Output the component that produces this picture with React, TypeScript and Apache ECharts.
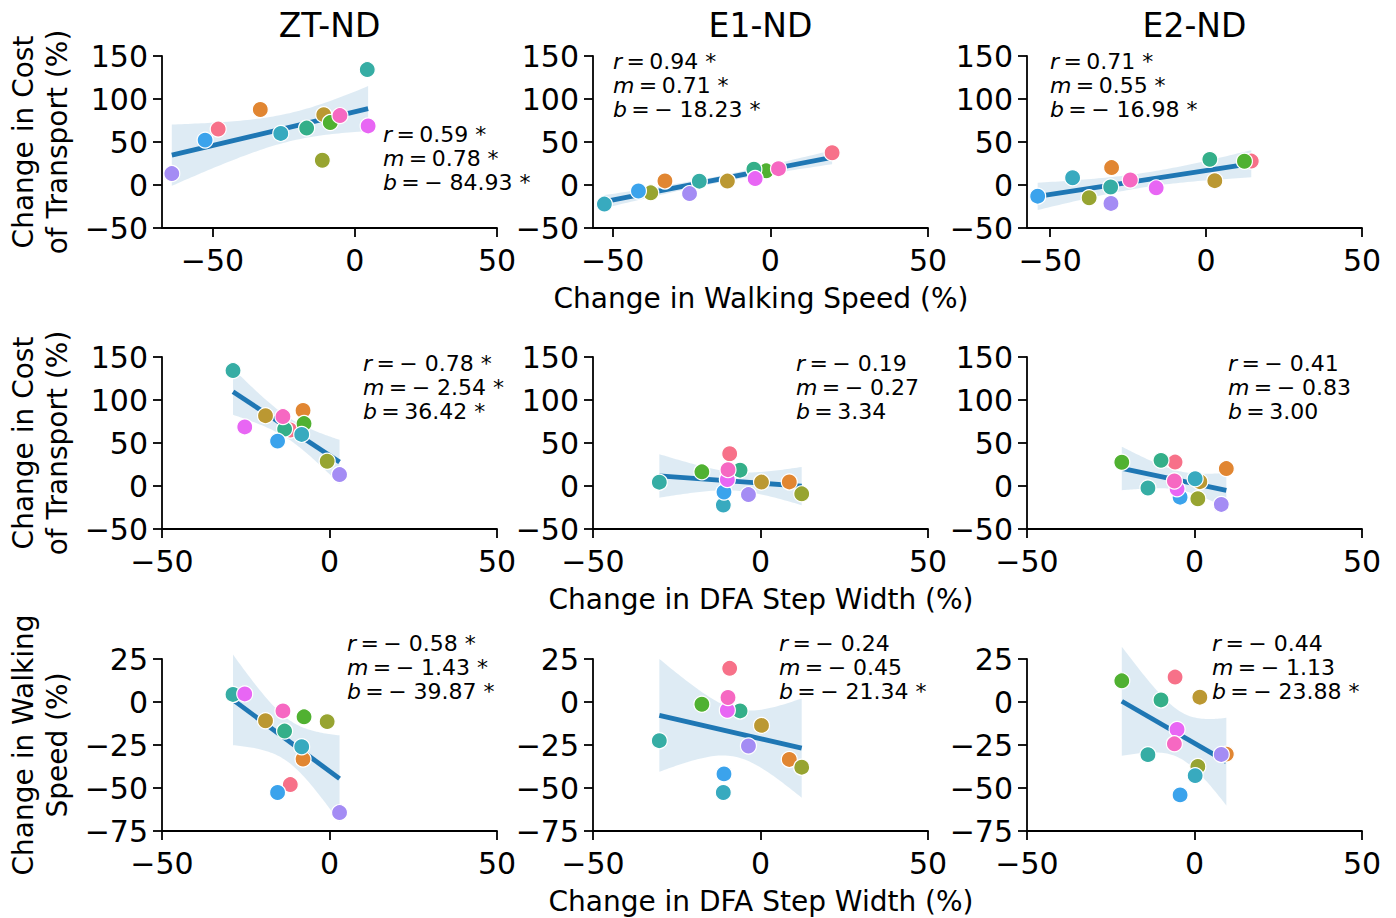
import React, { useEffect, useRef } from 'react';
import * as echarts from 'echarts';

// ---- data (12 participants, colour = participant) ----
const conditions = ['ZT-ND', 'E1-ND', 'E2-ND'];
const palette = ['#f77189', '#e18632', '#bb9832', '#97a431', '#50b131', '#34af89', '#36ada4', '#38aabf', '#3ba3ec', '#a48cf4', '#e866f4', '#f668c2'];

// Change in walking speed (%)
const speedZT = [-48.0, -33.2, -10.9, -11.4, -8.6, -16.9, 4.4, -26.0, -52.6, -64.3, 4.7, -5.2];
const speedE1 = [19.6, -33.4, -13.6, -37.9, -1.3, -5.2, -22.5, -52.6, -41.8, -25.6, -4.8, 2.6];
const speedE2 = [14.5, -30.3, 2.8, -37.5, 12.3, 1.2, -30.6, -42.8, -54.0, -30.5, -16.0, -24.3];

// Change in cost of transport (%)
const cotZT = [65.0, 87.8, 81.8, 28.8, 72.6, 66.2, 134.2, 60.0, 52.2, 13.3, 68.7, 80.7];
const cotE1 = [37.5, 4.7, 4.6, -9.1, 16.5, 18.4, 4.4, -22.2, -7.0, -10.0, 7.5, 19.0];
const cotE2 = [27.8, 20.3, 5.0, -14.8, 27.6, 29.8, -2.3, 8.4, -13.0, -21.4, -3.3, 5.8];

// Change in DFA step width (%)
const dfaZT = [-11.7, -7.9, -19.1, -0.7, -7.6, -13.4, -28.8, -8.3, -15.5, 3.0, -25.3, -13.9];
const dfaE1 = [-9.2, 8.6, 0.3, 12.3, -17.5, -6.1, -30.2, -11.1, -10.9, -3.6, -9.9, -9.7];
const dfaE2 = [-5.8, 9.5, 1.6, 1.0, -21.7, -10.0, -13.9, 0.2, -4.3, 8.0, -5.2, -6.0];

// statistics text per row (rows: speed->CoT, DFA->CoT, DFA->speed), per condition
const statR = [
  ['0.59 *', '0.94 *', '0.71 *'],
  ['\u2212 0.78 *', '\u2212 0.19', '\u2212 0.41'],
  ['\u2212 0.58 *', '\u2212 0.24', '\u2212 0.44'],
];
const statM = [
  ['0.78 *', '0.71 *', '0.55 *'],
  ['\u2212 2.54 *', '\u2212 0.27', '\u2212 0.83'],
  ['\u2212 1.43 *', '\u2212 0.45', '\u2212 1.13'],
];
const statB = [
  ['\u2212 84.93 *', '\u2212 18.23 *', '\u2212 16.98 *'],
  ['36.42 *', '3.34', '3.00'],
  ['\u2212 39.87 *', '\u2212 21.34 *', '\u2212 23.88 *'],
];

const xTicks = [-50, 0, 50];
const rowXLabels = ['Change in Walking Speed (%)', 'Change in DFA Step Width (%)', 'Change in DFA Step Width (%)'];
const rowYLabels = ['Change in Cost\nof Transport (%)', 'Change in Cost\nof Transport (%)', 'Change in Walking\nSpeed (%)'];

const speedData = [speedZT, speedE1, speedE2];
const cotData = [cotZT, cotE1, cotE2];
const dfaData = [dfaZT, dfaE1, dfaE2];

// ---- layout ----
const FONT = '"DejaVu Sans", sans-serif';
const colLeft = [162, 593, 1027];
const colWidth = 335;
const rowTop = [56, 357, 659];
const rowHeight = 172;
const statPos = [
  [[383, 158], [613, 85], [1050, 85]],
  [[363, 387], [796, 387], [1228, 387]],
  [[347, 667], [779, 667], [1212, 667]],
];

const fmt = (v: number) => (v < 0 ? '\u2212' + Math.abs(v) : String(v));

function regression(xs: number[], ys: number[]) {
  const n = xs.length;
  const xbar = xs.reduce((a, b) => a + b, 0) / n;
  const ybar = ys.reduce((a, b) => a + b, 0) / n;
  let sxx = 0, sxy = 0;
  for (let i = 0; i < n; i++) {
    sxx += (xs[i] - xbar) ** 2;
    sxy += (xs[i] - xbar) * (ys[i] - ybar);
  }
  const slope = sxy / sxx;
  const icpt = ybar - slope * xbar;
  let sse = 0;
  for (let i = 0; i < n; i++) sse += (ys[i] - icpt - slope * xs[i]) ** 2;
  const s = Math.sqrt(sse / (n - 2));
  const t = 2.228; // 95% two-sided, df = 10
  const xmin = Math.min(...xs), xmax = Math.max(...xs);
  const upper: number[][] = [], lower: number[][] = [];
  const steps = 60;
  for (let k = 0; k <= steps; k++) {
    const x = xmin + (xmax - xmin) * k / steps;
    const yh = icpt + slope * x;
    const se = s * Math.sqrt(1 / n + (x - xbar) ** 2 / sxx);
    upper.push([x, yh + t * se]);
    lower.push([x, yh - t * se]);
  }
  return { slope, icpt, xmin, xmax, upper, lower };
}

export default function App() {
  const ref = useRef<HTMLDivElement>(null);
  useEffect(() => {
    if (!ref.current) return;
    const chart = echarts.init(ref.current, null, { renderer: 'svg' });
    const grids: any[] = [], xAxes: any[] = [], yAxes: any[] = [], series: any[] = [], graphic: any[] = [];

    for (let r = 0; r < 3; r++) {
      for (let c = 0; c < 3; c++) {
        const k = r * 3 + c;
        const xs = r === 0 ? speedData[c] : dfaData[c];
        const ys = r === 2 ? speedData[c] : cotData[c];
        grids.push({ left: colLeft[c], top: rowTop[r], width: colWidth, height: rowHeight, containLabel: false });
        const axisCommon = {
          axisLine: { show: true, onZero: false, lineStyle: { color: '#000', width: 1.8 } },
          axisTick: { show: true, length: 9, lineStyle: { color: '#000', width: 1.8 } },
          splitLine: { show: false },
        };
        const xa: any = {
          type: 'value', gridIndex: k, max: 50, ...axisCommon,
          axisLabel: { fontSize: 30, fontFamily: FONT, color: '#000', margin: 17, formatter: fmt, showMinLabel: true, showMaxLabel: true },
        };
        if (r === 0) {
          const mn = Math.min(...xs), mx = Math.max(...xs);
          xa.min = mn - 0.05 * (mx - mn);
          xa.axisTick = { ...xa.axisTick, customValues: xTicks };
          xa.axisLabel = { ...xa.axisLabel, customValues: xTicks };
        } else {
          xa.min = -50;
          xa.interval = 50;
        }
        xAxes.push(xa);
        yAxes.push({
          type: 'value', gridIndex: k,
          min: r === 2 ? -75 : -50, max: r === 2 ? 25 : 150, interval: r === 2 ? 25 : 50,
          ...axisCommon,
          axisLabel: { fontSize: 30, fontFamily: FONT, color: '#000', margin: 14, formatter: fmt, showMinLabel: true, showMaxLabel: true },
        });

        const fit = regression(xs, ys);
        series.push({
          type: 'custom', xAxisIndex: k, yAxisIndex: k, silent: true, z: 1,
          data: [[fit.xmin, fit.icpt + fit.slope * fit.xmin]],
          renderItem: (params: any, api: any) => {
            const pts = fit.upper.map((p) => api.coord(p)).concat(fit.lower.slice().reverse().map((p) => api.coord(p)));
            return { type: 'polygon', shape: { points: pts }, style: { fill: 'rgba(31,119,180,0.15)' } };
          },
        });
        series.push({
          type: 'line', xAxisIndex: k, yAxisIndex: k, z: 2, symbol: 'none', silent: true,
          data: [[fit.xmin, fit.icpt + fit.slope * fit.xmin], [fit.xmax, fit.icpt + fit.slope * fit.xmax]],
          lineStyle: { color: '#1f77b4', width: 4.8 },
        });
        series.push({
          type: 'scatter', xAxisIndex: k, yAxisIndex: k, z: 3, symbolSize: 16,
          data: xs.map((x, i) => ({ value: [x, ys[i]], itemStyle: { color: palette[i] } })),
          itemStyle: { borderColor: '#fff', borderWidth: 1.2, opacity: 1 },
        });

        const [sx, sy] = statPos[r][c];
        graphic.push({
          type: 'text', x: sx, y: sy,
          style: {
            text: `{i|r}\u2009=\u2009${statR[r][c]}\n{i|m}\u2009=\u2009${statM[r][c]}\n{i|b}\u2009=\u2009${statB[r][c]}`,
            font: `22px ${FONT}`, fill: '#000', textAlign: 'left', textVerticalAlign: 'middle', lineHeight: 24,
            rich: { i: { fontStyle: 'italic', fontSize: 22, fontFamily: FONT, lineHeight: 24 } },
          },
        });
      }
      // x axis label per row
      graphic.push({
        type: 'text', x: 761, y: rowTop[r] + rowHeight + 70,
        style: { text: rowXLabels[r], font: `28px ${FONT}`, fill: '#000', textAlign: 'center', textVerticalAlign: 'middle' },
      });
      // y axis label per row
      graphic.push({
        type: 'text', x: 40, y: rowTop[r] + rowHeight / 2, rotation: Math.PI / 2,
        style: { text: rowYLabels[r], font: `28px ${FONT}`, fill: '#000', textAlign: 'center', textVerticalAlign: 'middle', lineHeight: 34 },
      });
    }
    // titles
    for (let c = 0; c < 3; c++) {
      graphic.push({
        type: 'text', x: colLeft[c] + colWidth / 2, y: 25,
        style: { text: conditions[c], font: `33px ${FONT}`, fill: '#000', textAlign: 'center', textVerticalAlign: 'middle' },
      });
    }

    chart.setOption({
      animation: false,
      backgroundColor: '#fff',
      grid: grids, xAxis: xAxes, yAxis: yAxes, series, graphic,
    });
    return () => chart.dispose();
  }, []);
  return <div ref={ref} style={{ position: 'absolute', left: 0, top: 0, width: 1396, height: 918 }} />;
}
